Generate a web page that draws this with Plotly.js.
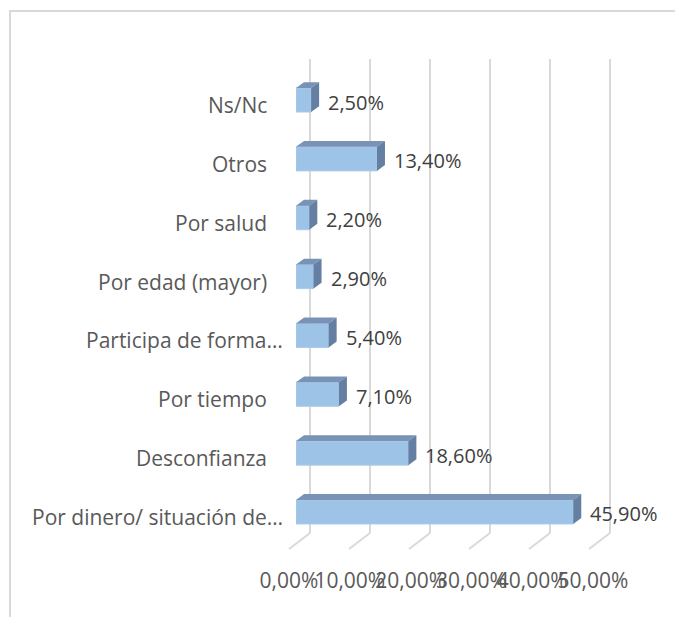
<!DOCTYPE html>
<html>
<head>
<meta charset="utf-8">
<script src="https://cdn.plot.ly/plotly-3.0.1.min.js"></script>
<style>
  html, body { margin: 0; padding: 0; background: #ffffff; }
  #chart { width: 675px; height: 617px; }
</style>
</head>
<body>
<div id="chart"></div>
<script>
// ---- data (bottom to top) ----
const categories = [
  "Por dinero/ situación de…",
  "Desconfianza",
  "Por tiempo",
  "Participa de forma…",
  "Por edad (mayor)",
  "Por salud",
  "Otros",
  "Ns/Nc"
];
const values = [45.9, 18.6, 7.1, 5.4, 2.9, 2.2, 13.4, 2.5];
const tickValues = [0, 10, 20, 30, 40, 50];
const tickLabels = ["0,00%", "10,00%", "20,00%", "30,00%", "40,00%", "50,00%"];

// ---- helpers for layout placement (pixels -> paper) ----
const W = 675, H = 617;
const px = x => x / W;
const py = y => 1 - y / H;

const FONT = "'Open Sans', 'Liberation Sans', sans-serif";
const idx = categories.map((_, i) => i);

// 3D look constants (in axis units)
const barH = 0.408;      // front face height (category units)
const depthX = 1.33;     // side depth in value units
const depthY = 0.10;     // depth in category units

// top faces and side faces built from the data
const topX = [], topY = [], sideX = [], sideY = [];
values.forEach((v, i) => {
  const yt = i + barH / 2, yb = i - barH / 2;
  topX.push(0, v, v + depthX, depthX, null);
  topY.push(yt, yt, yt + depthY, yt + depthY, null);
  sideX.push(v, v + depthX, v + depthX, v, null);
  sideY.push(yb, yb + depthY, yt + depthY, yt, null);
});

const traces = [
  // carrier trace so the value axis (tick labels) is drawn
  { type: "scatter", mode: "none", x: [0], y: [0], xaxis: "x", yaxis: "y", hoverinfo: "skip" },
  {
    type: "bar", orientation: "h",
    x: values, y: idx,
    xaxis: "x2", yaxis: "y",
    width: barH,
    marker: { color: "#9DC3E6", line: { color: "#A9CBEA", width: 1 } },
    hoverinfo: "skip"
  },
  {
    type: "scatter", mode: "none", x: topX, y: topY,
    xaxis: "x2", yaxis: "y",
    fill: "toself", fillcolor: "#7893B6", hoverinfo: "skip"
  },
  {
    type: "scatter", mode: "none", x: sideX, y: sideY,
    xaxis: "x2", yaxis: "y",
    fill: "toself", fillcolor: "#657FA2", hoverinfo: "skip"
  }
];

const shapes = [
  // outer chart border (top + left visible)
  { type: "rect", xref: "paper", yref: "paper",
    x0: px(10), x1: px(700), y0: py(640), y1: py(11),
    line: { color: "#D9D9D9", width: 2 }, layer: "below" }
];
// back-wall gridlines and floor lines, from tick values
tickValues.forEach(t => {
  shapes.push({ type: "line", xref: "x3", yref: "paper",
    x0: t, x1: t, y0: py(533), y1: py(59),
    line: { color: "#D9D9D9", width: 2 }, layer: "below" });
  shapes.push({ type: "line", xref: "x3", yref: "paper",
    xsizemode: "pixel", xanchor: t === 0 ? 1e-6 : t, x0: 0, x1: -21,
    ysizemode: "pixel", yanchor: py(533), y0: 0, y1: -16,
    line: { color: "#D9D9D9", width: 2 }, layer: "below" });
});

const annotations = [];
categories.forEach((c, i) => {
  annotations.push({
    xref: "paper", yref: "y", x: px(c.endsWith("…") ? 285 : 269), y: i,
    xanchor: "right", yanchor: "middle", yshift: -5,
    text: c, showarrow: false,
    font: { family: FONT, size: 21, color: "#595959" }
  });
  annotations.push({
    xref: "x2", yref: "y", x: values[i], y: i,
    xanchor: "left", yanchor: "middle", xshift: 15, yshift: -2,
    text: values[i].toFixed(2).replace(".", ",") + "%", showarrow: false,
    font: { family: FONT, size: 20, color: "#404040" }
  });
});

const layout = {
  width: W, height: H,
  margin: { l: 0, r: 0, t: 0, b: 0 },
  paper_bgcolor: "#ffffff", plot_bgcolor: "rgba(0,0,0,0)",
  showlegend: false,
  xaxis: {
    domain: [px(289), px(593)], range: [0, 50],
    anchor: "free", position: py(566),
    tickmode: "array", tickvals: tickValues, ticktext: tickLabels,
    tickangle: 0,
    showgrid: false, zeroline: false, showline: false, ticks: "",
    tickfont: { family: FONT, size: 21, color: "#595959" },
    fixedrange: true
  },
  xaxis2: {
    domain: [px(296), px(598)], range: [0, 50], anchor: "y",
    visible: false, fixedrange: true
  },
  // back wall scale (same 6 px per unit), widened so floor lines are not clipped
  xaxis3: {
    domain: [px(250), px(670)], range: [-10, 60], anchor: "y",
    visible: false, fixedrange: true
  },
  yaxis: {
    domain: [py(541.4), py(70.6)], range: [-0.5, 7.5],
    visible: false, fixedrange: true
  },
  shapes: shapes,
  annotations: annotations
};

Plotly.newPlot("chart", traces, layout, { displayModeBar: false, staticPlot: true });
</script>
</body>
</html>
